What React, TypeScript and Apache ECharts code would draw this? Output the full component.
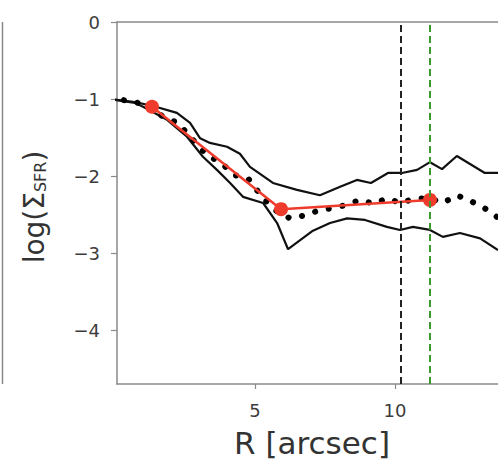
import React, { useEffect, useRef } from 'react';
import * as echarts from 'echarts';

const upperR = [-0.18, 0.71, 1.36, 2.21, 2.68, 3.04, 3.39, 4.0, 4.46, 4.82, 5.64, 6.5, 7.32, 8.04, 8.64, 9.14, 9.75, 10.25, 10.79, 11.25, 11.68, 12.21, 13.21, 13.68];
const upperLog = [-1.0, -1.04, -1.09, -1.18, -1.31, -1.51, -1.57, -1.62, -1.71, -1.88, -2.09, -2.18, -2.25, -2.14, -2.05, -2.09, -1.96, -1.96, -1.92, -1.82, -1.91, -1.74, -1.96, -1.96];

const lowerR = [-0.18, 0.71, 1.0, 1.86, 2.57, 3.14, 3.64, 4.11, 4.57, 5.29, 5.79, 6.18, 7.07, 7.68, 8.29, 8.93, 9.71, 10.18, 10.64, 11.25, 11.71, 12.32, 13.04, 13.68];
const lowerLog = [-1.0, -1.05, -1.10, -1.27, -1.49, -1.75, -1.92, -2.09, -2.27, -2.35, -2.61, -2.95, -2.71, -2.61, -2.55, -2.57, -2.66, -2.70, -2.66, -2.70, -2.79, -2.74, -2.81, -2.96];

const medR = [-0.18, 0.25, 0.71, 1.25, 1.71, 2.25, 2.68, 3.29, 3.75, 4.29, 4.75, 5.25, 5.71, 6.25, 6.79, 7.25, 7.71, 8.21, 8.75, 9.25, 9.71, 10.21, 10.71, 11.25, 11.71, 12.21, 12.68, 13.21, 13.64];
const medLog = [-1.0, -1.01, -1.04, -1.09, -1.23, -1.31, -1.49, -1.73, -1.82, -1.99, -2.03, -2.27, -2.44, -2.55, -2.51, -2.45, -2.42, -2.38, -2.31, -2.36, -2.29, -2.35, -2.29, -2.29, -2.35, -2.25, -2.32, -2.42, -2.53];

const redR = [1.32, 5.93, 11.25];
const redLog = [-1.10, -2.43, -2.31];

const vlineBlackR = 10.2;
const vlineGreenR = 11.25;

const xTicks = [5, 10];
const yTicks = [-4, -3, -2, -1, 0];

const xMin = 0.07;
const xMax = 13.68;
const yMin = -4.7;
const yMax = 0;

const zip = (a: number[], b: number[]) => a.map((v, i) => [v, b[i]]);

const FONT = 'DejaVu Sans';
const SPINE = '#8a8a8a';
const TXT = '#3c3c3c';

export default function App() {
  const ref = useRef<HTMLDivElement>(null);
  useEffect(() => {
    if (!ref.current) return;
    const chart = echarts.init(ref.current, null, { renderer: 'svg' });
    const fmt = (v: number) => (v < 0 ? '\u2212' + Math.abs(v) : String(v));
    chart.setOption({
      animation: false,
      backgroundColor: '#ffffff',
      grid: { left: 117, top: 22, right: 0, bottom: 76 },
      xAxis: [
        {
          type: 'value',
          min: xMin,
          max: xMax,
          axisLine: { show: true, onZero: false, lineStyle: { color: SPINE, width: 1.5 } },
          axisTick: { show: true, length: 5, customValues: xTicks, lineStyle: { color: SPINE, width: 1.2 } },
          axisLabel: { customValues: xTicks, margin: 17, fontSize: 18, color: TXT, fontFamily: FONT },
          splitLine: { show: false },
        },
        {
          type: 'value',
          position: 'top',
          min: xMin,
          max: xMax,
          axisLine: { show: true, onZero: false, lineStyle: { color: SPINE, width: 1.5 } },
          axisTick: { show: false },
          axisLabel: { show: false },
          splitLine: { show: false },
        },
      ],
      yAxis: {
        type: 'value',
        min: yMin,
        max: yMax,
        axisLine: { show: true, onZero: false, lineStyle: { color: SPINE, width: 1.5 } },
        axisTick: { show: true, length: 6, customValues: yTicks, lineStyle: { color: SPINE, width: 1.2 } },
        axisLabel: { customValues: yTicks, margin: 17, fontSize: 18, color: TXT, fontFamily: FONT, formatter: fmt },
        splitLine: { show: false },
      },
      series: [
        {
          type: 'line',
          data: zip(upperR, upperLog),
          symbol: 'none',
          clip: false,
          lineStyle: { color: '#111', width: 2.2 },
          silent: true,
        },
        {
          type: 'line',
          data: zip(lowerR, lowerLog),
          symbol: 'none',
          clip: false,
          lineStyle: { color: '#111', width: 2.2 },
          silent: true,
        },
        {
          type: 'line',
          data: zip(medR, medLog),
          symbol: 'none',
          clip: false,
          lineStyle: { color: '#000', width: 6, type: [0.1, 13.8], cap: 'round' },
          silent: true,
          markLine: {
            silent: true,
            symbol: ['none', 'none'],
            label: { show: false },
            data: [
              { xAxis: vlineBlackR, lineStyle: { color: '#222', width: 2, type: [7, 4] } },
              { xAxis: vlineGreenR, lineStyle: { color: '#3a9a2e', width: 2, type: [7, 4] } },
            ],
          },
        },
        {
          type: 'line',
          data: zip(redR, redLog),
          symbol: 'circle',
          symbolSize: 14,
          itemStyle: { color: '#ef3b2c' },
          lineStyle: { color: '#ef3b2c', width: 2.5 },
          silent: true,
        },
      ],
      graphic: [
        {
          type: 'line',
          shape: { x1: 2.5, y1: 22, x2: 2.5, y2: 384 },
          style: { stroke: SPINE, lineWidth: 1.5 },
        },
        {
          type: 'text',
          x: 34,
          y: 207,
          rotation: Math.PI / 2,
          style: {
            text: '{a|log(Σ}{b|SFR}{a|)}',
            align: 'center',
            verticalAlign: 'middle',
            rich: {
              a: { fontSize: 28, fontFamily: FONT, fill: '#333' },
              b: { fontSize: 16, fontFamily: FONT, fill: '#333', verticalAlign: 'bottom' },
            },
          },
        },
        {
          type: 'text',
          x: 312,
          y: 443,
          style: {
            text: 'R [arcsec]',
            fontSize: 31,
            fontFamily: FONT,
            fill: '#333',
            align: 'center',
            verticalAlign: 'middle',
          },
        },
      ],
    });
    return () => chart.dispose();
  }, []);
  return (
    <div
      ref={ref}
      style={{ position: 'fixed', left: 0, top: 0, width: 498, height: 460, background: '#fff' }}
    />
  );
}
